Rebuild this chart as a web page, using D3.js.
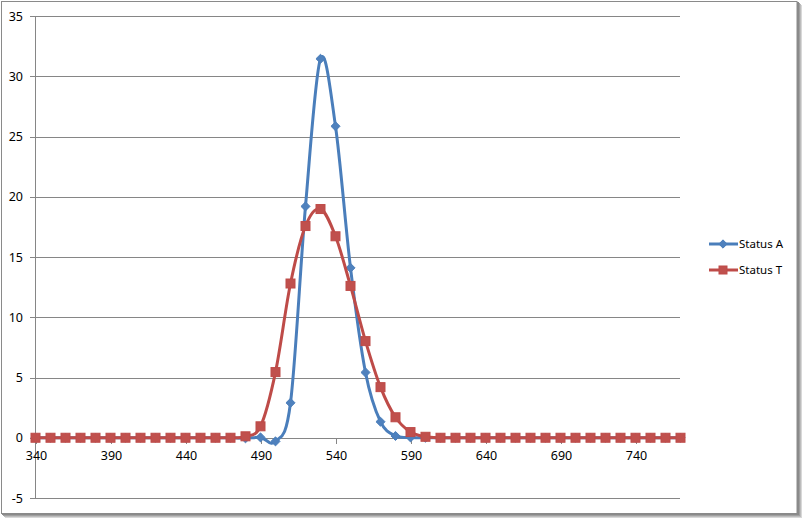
<!DOCTYPE html>
<html><head><meta charset="utf-8">
<script src="https://cdn.jsdelivr.net/npm/d3@7"></script>
<style>body{margin:0;background:#fff}svg{display:block}</style>
</head><body>
<svg id="c" width="803" height="519"></svg>
<script>
const xValues = d3.range(340, 780, 10);
const statusA = [0,0,0,0,0,0,0,0,0,0,0,0,0,0,-0.05,0.03,-0.3,2.9,19.2,31.45,25.85,14.1,5.42,1.33,0.15,0.03,0,0,0,0,0,0,0,0,0,0,0,0,0,0,0,0,0,0];
const statusT = [0,0,0,0,0,0,0,0,0,0,0,0,0,0,0.12,0.95,5.45,12.8,17.57,18.98,16.72,12.6,8.02,4.2,1.7,0.47,0.08,0,0,0,0,0,0,0,0,0,0,0,0,0,0,0,0,0];
const yTicks = [-5,0,5,10,15,20,25,30,35];
const xTicks = [340,390,440,490,540,590,640,690,740];
const seriesNames = ["Status A","Status T"];

const svg = d3.select("#c");
const font = "'Noto Sans', 'DejaVu Sans', sans-serif";

// shadow
const shadow = svg.append("g");
[["#d8d8d8",4],["#bcbcbc",3],["#a0a0a0",2],["#8a8a8a",1]].forEach(([c,o])=>{
  shadow.append("rect").attr("x",1+o).attr("y",1+o).attr("width",797).attr("height",513).attr("fill",c);
});
svg.append("rect").attr("x",1.5).attr("y",1.5).attr("width",795.5).attr("height",512).attr("fill","#fff").attr("stroke","#8a8a8a").attr("stroke-width",1);

const x = d3.scaleLinear().domain([340,770]).range([35.5,680.5]);
const y = d3.scaleLinear().domain([-5,35]).range([498,16]);

// gridlines
svg.append("g").selectAll("line").data(yTicks).join("line")
  .attr("x1",30).attr("x2",680)
  .attr("y1",d=>Math.round(y(d))+0.5).attr("y2",d=>Math.round(y(d))+0.5)
  .attr("stroke","#868686").attr("stroke-width",1);

// y axis line
svg.append("line").attr("x1",35.5).attr("x2",35.5).attr("y1",16).attr("y2",498.5).attr("stroke","#868686");
// x axis ticks
svg.append("g").selectAll("line").data(xTicks).join("line")
  .attr("x1",d=>Math.round(x(d))+0.5).attr("x2",d=>Math.round(x(d))+0.5)
  .attr("y1",438).attr("y2",444).attr("stroke","#868686");

// y labels
svg.append("g").selectAll("text").data(yTicks).join("text")
  .attr("x",23).attr("y",d=>y(d)+4.5).attr("text-anchor","end")
  .attr("font-family",font).attr("font-size","12.5px").attr("fill","#000").text(d=>d);
// x labels
svg.append("g").selectAll("text").data(xTicks).join("text")
  .attr("x",d=>x(d)+1).attr("y",460).attr("text-anchor","middle")
  .attr("font-family",font).attr("font-size","12.5px").attr("fill","#000").text(d=>d);

const line = d3.line().x((d,i)=>x(xValues[i])).y(d=>y(d)).curve(d3.curveCatmullRom.alpha(0));

const colA = "#4A7EBB", colT = "#BE4B48";
svg.append("path").datum(statusA).attr("d",line).attr("fill","none").attr("stroke",colA).attr("stroke-width",3).attr("stroke-linejoin","round");
svg.append("g").selectAll("path").data(statusA).join("path")
  .attr("d",d3.symbol(d3.symbolDiamond2,52)())
  .attr("transform",(d,i)=>`translate(${x(xValues[i])},${y(d)})`)
  .attr("fill","#4F81BD").attr("stroke",colA).attr("stroke-width",1);

svg.append("path").datum(statusT).attr("d",line).attr("fill","none").attr("stroke",colT).attr("stroke-width",3).attr("stroke-linejoin","round");
svg.append("g").selectAll("rect").data(statusT).join("rect")
  .attr("x",(d,i)=>x(xValues[i])-4.5).attr("y",d=>y(d)-4.5).attr("width",9).attr("height",9)
  .attr("fill","#C0504D").attr("stroke",colT).attr("stroke-width",1);

// legend
const leg = svg.append("g");
const legY = [244,270];
leg.append("line").attr("x1",709).attr("x2",738).attr("y1",legY[0]).attr("y2",legY[0]).attr("stroke",colA).attr("stroke-width",3);
leg.append("path").attr("d",d3.symbol(d3.symbolDiamond2,44)()).attr("transform",`translate(723,${legY[0]})`).attr("fill","#4F81BD").attr("stroke",colA);
leg.append("line").attr("x1",709).attr("x2",738).attr("y1",legY[1]).attr("y2",legY[1]).attr("stroke",colT).attr("stroke-width",3);
leg.append("rect").attr("x",719).attr("y",legY[1]-4).attr("width",8).attr("height",8).attr("fill","#C0504D").attr("stroke",colT);
leg.selectAll("text").data(seriesNames).join("text")
  .attr("x",739).attr("y",(d,i)=>legY[i]+4).attr("font-family",font).attr("font-size","11.5px").attr("fill","#000").text(d=>d);
</script>
</body></html>
